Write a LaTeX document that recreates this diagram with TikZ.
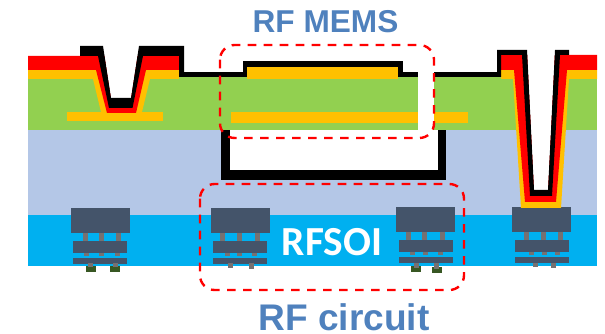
\documentclass[tikz,border=0pt]{standalone}
\usepackage{fontspec}
\setmainfont{Liberation Sans}
\newfontfamily\soifont{Carlito}
\usepackage{tikz}
\definecolor{oxide}{HTML}{B4C7E7}
\definecolor{silicon}{HTML}{00B0F0}
\definecolor{dielectric}{HTML}{92D050}
\definecolor{gold}{HTML}{FFC000}
\definecolor{slate}{HTML}{44546A}
\definecolor{plug}{HTML}{767171}
\definecolor{pad}{HTML}{385723}
\definecolor{title}{HTML}{4F81BD}

\begin{document}
\begin{tikzpicture}[x=0.75pt, y=-0.75pt,
 frame/.style={draw=red, line width=1.8pt, rounded corners=11pt, dash pattern=on 6.5pt off 5.5pt},
 heading/.style={text=title, anchor=base, inner sep=0pt},
 metal/.style={fill=slate},
 via/.style={fill=plug}]
\useasboundingbox (0,0) rectangle (605,334);
% wafer layers
\fill[silicon] (28,215) rectangle (597,266);
\fill[oxide] (28,130) rectangle (597,215);
\fill[dielectric] (28,77) rectangle (597,130);
% cavity
\fill (221,130) rectangle (446,180);
\fill[white] (230,130) rectangle (438,170);
% transistors
\foreach \x/\y/\o/\a/\b/\c/\d/\e/\f in {71/208/2/83/99/116/84/99/115, 211/208/2/220/237/255/225/237/252, 396/207/3/406/422/440/410/423/438, 512/207/3/524/541/558/529/542/555}{
 \fill[via] (\a,\y+20) rectangle +(5,14);
 \fill[via] (\b,\y+20) rectangle +(5,14);
 \fill[via] (\c,\y+20) rectangle +(5,14);
 \fill[via] (\d,\y+40) rectangle +(4.5,8);
 \fill[via] (\e,\y+40) rectangle +(4.5,8);
 \fill[via] (\f,\y+40) rectangle +(4.5,8);
 \fill[metal] (\x,\y) rectangle +(59,25);
 \fill[metal] (\x+\o,\y+32.5) rectangle +(54,12);
 \fill[metal] (\x+\o,\y+49.5) rectangle +(54,6);
}
\fill[pad] (86,266) rectangle (96,272);
\fill[pad] (110,266) rectangle (120,272);
\fill[pad] (411,266) rectangle (421,272);
\fill[pad] (432,267) rectangle (442,273);
\foreach \x/\y in {88/267, 113/267, 228/268, 249/269, 414/268, 434/269, 533/267, 551/268}
 \fill[via] (\x,263) rectangle (\x+5,\y);
% electrodes
\fill[gold] (67,112) rectangle (163,121);
\fill[gold] (231,112) rectangle (468,123);
\fill (184,72) rectangle (497,77);
\fill (243,61) rectangle (403,77);
\fill[gold] (247,67) rectangle (398,79);
\fill[white] (418,72) rectangle (434,130);
% left contact
\fill[gold] (28,70) -- (179,70) -- (179,79) -- (150,79) -- (142,112) -- (101,112) -- (93,79) -- (28,79) -- cycle;
\fill[red] (28,56) -- (179,56) -- (179,70) -- (146,70) -- (136,113) -- (107,113) -- (96,70) -- (28,70) -- cycle;
\fill[white] (103,46) -- (111,98) -- (131,98) -- (139,46) -- cycle;
\fill (80,46) -- (103,46) -- (111,98) -- (131,98) -- (139,46) -- (184,46) -- (184,77) -- (179,77) -- (179,56) -- (143,56) -- (132.5,108) -- (109,108) -- (98,56) -- (80,56) -- cycle;
% right contact
\fill[gold] (501,70) -- (597,70) -- (597,79) -- (569,79) -- (561,208) -- (521,208) -- (513,79) -- (501,79) -- cycle;
\fill[red] (501,55) -- (597,55) -- (597,70) -- (567,70) -- (556,202) -- (525,202) -- (514,70) -- (501,70) -- cycle;
\fill[white] (527,50) -- (534,190) -- (548,190) -- (555,50) -- cycle;
\fill (497,50) -- (527,50) -- (534,190) -- (548,190) -- (555,50) -- (569,50) -- (569,55) -- (560,55) -- (552,196) -- (530,196) -- (522,55) -- (501,55) -- (501,77) -- (497,77) -- cycle;
% regions
\draw[frame] (220,45) rectangle (434,138);
\draw[frame] (200,184) rectangle (464,290);
\node[heading, font=\bfseries\fontsize{23.7}{24}\selectfont] (mems) at (325.5,33) {RF MEMS};
\node[heading, font=\bfseries\fontsize{27.8}{28}\selectfont] (circuit) at (344,330) {RF circuit};
\node[text=white, anchor=base, inner sep=0pt, font=\soifont\bfseries\fontsize{31}{31}\selectfont] (soi) at (332,255) {RFSOI};
\end{tikzpicture}
\end{document}
